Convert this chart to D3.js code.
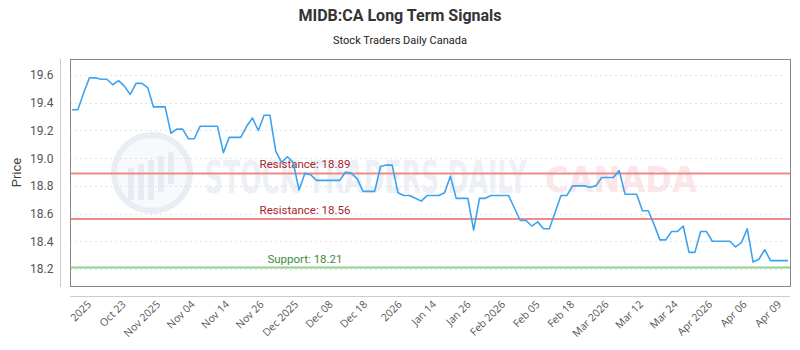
<!DOCTYPE html>
<html>
<head>
<meta charset="utf-8">
<script src="https://cdn.jsdelivr.net/npm/d3@7"></script>
<style>
  body { margin: 0; background: #fff; }
  svg { display: block; font-family: Roboto, "Noto Sans", sans-serif; }
</style>
</head>
<body>
<script>
// chart values
var prices = [
  19.35, 19.35, 19.47, 19.58, 19.58, 19.57, 19.57, 19.53, 19.56, 19.52,
  19.46, 19.54, 19.54, 19.51, 19.37, 19.37, 19.37, 19.18, 19.21, 19.21,
  19.14, 19.14, 19.23, 19.23, 19.23, 19.23, 19.04, 19.15, 19.15, 19.15,
  19.23, 19.29, 19.20, 19.31, 19.31, 19.05, 18.97, 19.01, 18.97, 18.77,
  18.89, 18.88, 18.84, 18.84, 18.84, 18.84, 18.84, 18.90, 18.89, 18.85,
  18.76, 18.76, 18.76, 18.94, 18.95, 18.95, 18.75, 18.73, 18.73, 18.71,
  18.69, 18.73, 18.73, 18.73, 18.75, 18.87, 18.71, 18.71, 18.71, 18.48,
  18.71, 18.71, 18.73, 18.73, 18.73, 18.73, 18.64, 18.55, 18.55, 18.51,
  18.54, 18.49, 18.49, 18.61, 18.73, 18.73, 18.80, 18.80, 18.80, 18.79,
  18.80, 18.86, 18.86, 18.86, 18.91, 18.74, 18.74, 18.74, 18.62, 18.62,
  18.52, 18.41, 18.41, 18.47, 18.47, 18.51, 18.32, 18.32, 18.47, 18.47,
  18.40, 18.40, 18.40, 18.40, 18.36, 18.39, 18.49, 18.25, 18.27, 18.34,
  18.26, 18.26, 18.26, 18.26
];

var tickLabels = ["2025", "Oct 23", "Nov 2025", "Nov 04", "Nov 14", "Nov 26",
  "Dec 2025", "Dec 08", "Dec 18", "2026", "Jan 14", "Jan 26", "Feb 2026",
  "Feb 05", "Feb 18", "Mar 2026", "Mar 12", "Mar 24", "Apr 2026", "Apr 06", "Apr 09"];

var yTicks = [18.2, 18.4, 18.6, 18.8, 19.0, 19.2, 19.4, 19.6];

var levelNames = ["Resistance", "Resistance", "Support"];
var levelValues = [18.89, 18.56, 18.21];

var width = 800, height = 350;
var plot = {left: 70, right: 790, top: 59, bottom: 286};

var svg = d3.select("body").append("svg")
    .attr("width", width)
    .attr("height", height);

svg.append("rect").attr("width", width).attr("height", height).attr("fill", "#fff");

var x = d3.scaleLinear()
    .domain([0, prices.length - 1])
    .range([plot.left + 2, plot.right - 2]);

var y = d3.scaleLinear()
    .domain([18.077, 19.716])
    .range([plot.bottom, plot.top]);

var xTick = d3.scalePoint()
    .domain(tickLabels)
    .range([89, 779]);

// titles
svg.append("text")
    .attr("x", 400).attr("y", 21)
    .attr("text-anchor", "middle")
    .attr("font-size", 16).attr("font-weight", "bold")
    .attr("fill", "#333")
    .text("MIDB:CA Long Term Signals");

svg.append("text")
    .attr("x", 400).attr("y", 44)
    .attr("text-anchor", "middle")
    .attr("font-size", 11)
    .attr("fill", "#222")
    .text("Stock Traders Daily Canada");

// watermark
var wm = svg.append("g").attr("opacity", 0.55);
wm.append("circle")
    .attr("cx", 152).attr("cy", 173).attr("r", 38)
    .attr("fill", "#f2f5fa").attr("stroke", "#d8e0ec").attr("stroke-width", 6);
[0, 1, 2, 3, 4].forEach(function(i) {
  wm.append("rect")
    .attr("x", 128 + i * 10).attr("y", 168 - i * 4)
    .attr("width", 6).attr("height", 32 + i * 4 - (i > 2 ? (i - 2) * 8 : 0))
    .attr("fill", "#d5ddea");
});
wm.append("text")
    .attr("x", 205).attr("y", 193)
    .attr("font-size", 44).attr("font-weight", "bold")
    .attr("font-family", "'DejaVu Sans Condensed', sans-serif")
    .attr("textLength", 322).attr("lengthAdjust", "spacingAndGlyphs")
    .attr("fill", "#dfe5ee")
    .text("STOCK TRADERS DAILY");
wm.append("text")
    .attr("x", 545).attr("y", 192)
    .attr("font-size", 36).attr("font-weight", "bold")
    .attr("font-family", "'DejaVu Sans', sans-serif")
    .attr("textLength", 152).attr("lengthAdjust", "spacingAndGlyphs")
    .attr("fill", "#f9d3d8")
    .text("CANADA");

// grid
svg.append("g").selectAll("line")
    .data(yTicks)
    .enter().append("line")
    .attr("x1", plot.left).attr("x2", plot.right - 6)
    .attr("y1", function(d) { return Math.round(y(d)) + 0.5; })
    .attr("y2", function(d) { return Math.round(y(d)) + 0.5; })
    .attr("stroke", "#e2e2e2")
    .attr("stroke-dasharray", "2,3");

// y axis
var yAxis = svg.append("g")
    .attr("transform", "translate(60.5,0)")
    .call(d3.axisLeft(y).tickValues(yTicks).tickFormat(d3.format(".1f")).tickSize(0).tickPadding(7));
yAxis.select(".domain").attr("stroke", "#ccc").attr("d", "M0," + plot.top + "V" + (plot.bottom + 1));
yAxis.selectAll("text").attr("font-size", 12).attr("fill", "#555").attr("font-family", "Roboto, sans-serif");

svg.append("text")
    .attr("transform", "translate(21," + ((plot.top + plot.bottom) / 2) + ") rotate(-90)")
    .attr("text-anchor", "middle")
    .attr("font-size", 13).attr("fill", "#444")
    .text("Price");

// x axis
svg.append("line")
    .attr("x1", plot.left).attr("x2", plot.right)
    .attr("y1", 296.5).attr("y2", 296.5)
    .attr("stroke", "#ccc");

svg.append("g").selectAll("text")
    .data(tickLabels)
    .enter().append("text")
    .attr("transform", function(d) { return "translate(" + (xTick(d) + 3) + ",305) rotate(-45)"; })
    .attr("text-anchor", "end")
    .attr("font-size", 10.5).attr("fill", "#555")
    .attr("font-family", "'Open Sans', sans-serif")
    .text(function(d) { return d; });

// levels
var levelColor = ["#f08a8a", "#f08a8a", "#8fcf8f"];
var textColor = ["#a8252c", "#a8252c", "#3d8c3d"];
var lv = svg.append("g").selectAll("g")
    .data(levelValues)
    .enter().append("g");
lv.append("line")
    .attr("x1", plot.left).attr("x2", plot.right)
    .attr("y1", function(d) { return y(d); })
    .attr("y2", function(d) { return y(d); })
    .attr("stroke", function(d, i) { return levelColor[i]; })
    .attr("stroke-width", 2);
lv.append("text")
    .attr("x", 305)
    .attr("y", function(d) { return y(d) - 5; })
    .attr("text-anchor", "middle")
    .attr("font-size", 11.5)
    .attr("fill", function(d, i) { return textColor[i]; })
    .text(function(d, i) { return levelNames[i] + ": " + d.toFixed(2); });

// price line
var line = d3.line()
    .x(function(d, i) { return x(i); })
    .y(function(d) { return y(d); });

svg.append("path")
    .datum(prices)
    .attr("d", line)
    .attr("fill", "none")
    .attr("stroke", "#3ba3f2")
    .attr("stroke-width", 1.6)
    .attr("stroke-linejoin", "round");

// plot frame
svg.append("rect")
    .attr("x", plot.left + 0.5).attr("y", plot.top + 0.5)
    .attr("width", plot.right - plot.left).attr("height", plot.bottom - plot.top)
    .attr("fill", "none")
    .attr("stroke", "#888");
</script>
</body>
</html>
